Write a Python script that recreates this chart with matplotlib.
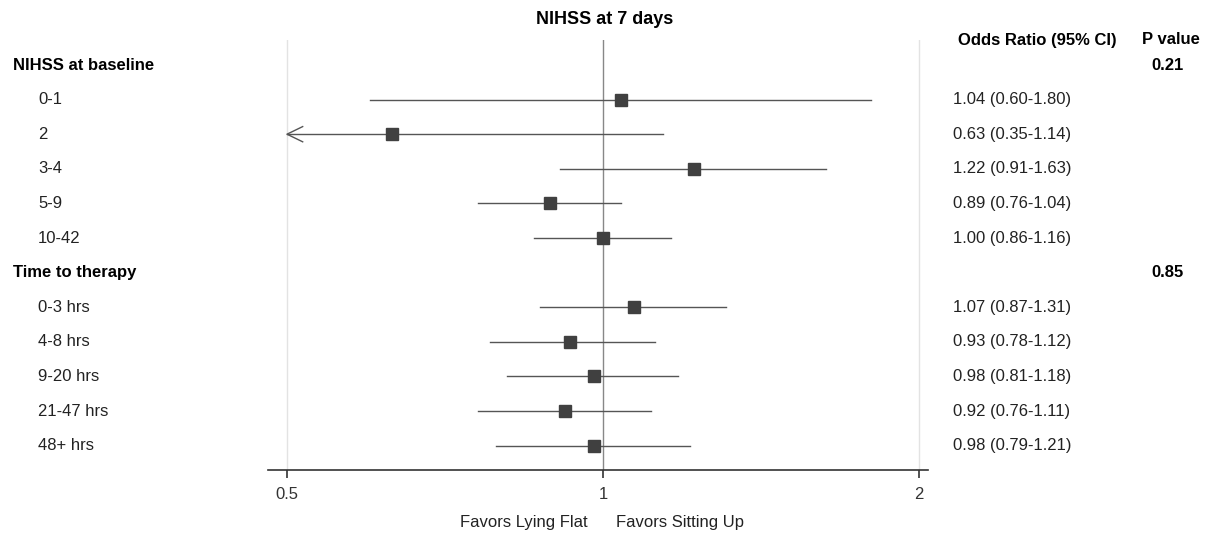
#!/usr/bin/env python3
"""Forest plot: NIHSS at 7 days, odds ratios by subgroup."""
import matplotlib
matplotlib.use("Agg")
import matplotlib.pyplot as plt
import matplotlib.transforms as mtransforms

plt.rcParams["font.family"] = ["Liberation Sans", "DejaVu Sans"]

# rows top to bottom; None marks a group header
row_labels = ["NIHSS at baseline", "0-1", "2", "3-4", "5-9", "10-42",
              "Time to therapy", "0-3 hrs", "4-8 hrs", "9-20 hrs", "21-47 hrs", "48+ hrs"]
is_header = [True, False, False, False, False, False,
             True, False, False, False, False, False]
odds = [None, 1.04, 0.63, 1.22, 0.89, 1.00, None, 1.07, 0.93, 0.98, 0.92, 0.98]
ci_low = [None, 0.60, 0.35, 0.91, 0.76, 0.86, None, 0.87, 0.78, 0.81, 0.76, 0.79]
ci_high = [None, 1.80, 1.14, 1.63, 1.04, 1.16, None, 1.31, 1.12, 1.18, 1.11, 1.21]
p_values = ["0.21", None, None, None, None, None, "0.85", None, None, None, None, None]
x_ticks = [0.5, 1, 2]
x_tick_labels = ["0.5", "1", "2"]

W, H = 1207, 545
fig = plt.figure(figsize=(W / 100, H / 100), dpi=100)

# pixel layout of the reference
x_left_px, x_right_px = 268, 928
x_one_px, px_per_log2 = 603, 316
y_top_px, y_bot_px = 40, 470
row0_px, row_step = 65, 34.6
FS = 12

ax = fig.add_axes([x_left_px / W, 1 - y_bot_px / H,
                   (x_right_px - x_left_px) / W, (y_bot_px - y_top_px) / H])
ax.set_xscale("log", base=2)
ax.set_xlim(2 ** ((x_left_px - x_one_px) / px_per_log2),
            2 ** ((x_right_px - x_one_px) / px_per_log2))
ax.set_ylim((y_bot_px - row0_px) / row_step, (y_top_px - row0_px) / row_step)

for s in ("top", "left", "right"):
    ax.spines[s].set_visible(False)
ax.spines["bottom"].set_color("#333333")
ax.spines["bottom"].set_linewidth(1.2)
ax.set_yticks([])
ax.set_xticks(x_ticks)
ax.set_xticklabels(x_tick_labels)
ax.xaxis.set_minor_locator(matplotlib.ticker.NullLocator())
ax.tick_params(axis="x", length=6, width=1.2, color="#333333", labelsize=FS,
               labelcolor="#333333", pad=6)

# reference lines
ax.axvline(0.5, color="#e3e3e3", lw=1, zorder=0)
ax.axvline(2, color="#e3e3e3", lw=1, zorder=0)
ax.axvline(1, color="#888888", lw=1, zorder=1)

xmin = 0.5
for i, (o, lo, hi) in enumerate(zip(odds, ci_low, ci_high)):
    if o is None:
        continue
    if lo < xmin:
        # CI runs off the left edge: draw an open arrow at 0.5
        ax.plot([xmin, hi], [i, i], color="#555555", lw=1, zorder=2)
        ax.plot([xmin * 1.035, xmin, xmin * 1.035], [i - 0.22, i, i + 0.22],
                color="#555555", lw=1, zorder=2)
    else:
        ax.plot([lo, hi], [i, i], color="#555555", lw=1, zorder=2)
    ax.plot(o, i, marker="s", markersize=9, color="#404040", zorder=3)

# text columns
trans = mtransforms.blended_transform_factory(fig.transFigure, ax.transData)
for i, lab in enumerate(row_labels):
    if is_header[i]:
        ax.text(13 / W, i, lab, transform=trans, fontsize=FS, fontweight="bold",
                va="center", ha="left", color="black")
    else:
        ax.text(38 / W, i, lab, transform=trans, fontsize=FS, va="center",
                ha="left", color="#222222")
        ax.text(953 / W, i, f"{odds[i]:.2f} ({ci_low[i]:.2f}-{ci_high[i]:.2f})",
                transform=trans, fontsize=FS, va="center", ha="left", color="#222222")
    if p_values[i]:
        ax.text(1168 / W, i, p_values[i], transform=trans, fontsize=FS,
                fontweight="bold", va="center", ha="center")

fig.text(1037 / W, 1 - 40 / H, "Odds Ratio (95% CI)", fontsize=FS,
         fontweight="bold", ha="center", va="center")
fig.text(1171 / W, 1 - 40 / H, "P value", fontsize=FS, fontweight="bold",
         ha="center", va="center")
fig.text(605 / W, 1 - 20 / H, "NIHSS at 7 days", fontsize=13, fontweight="bold",
         ha="center", va="center")
fig.text(588 / W, 1 - 523 / H, "Favors Lying Flat", fontsize=FS, ha="right",
         va="center", color="#222222")
fig.text(616 / W, 1 - 523 / H, "Favors Sitting Up", fontsize=FS, ha="left",
         va="center", color="#222222")

fig.savefig("out.png", dpi=100, facecolor="white")
